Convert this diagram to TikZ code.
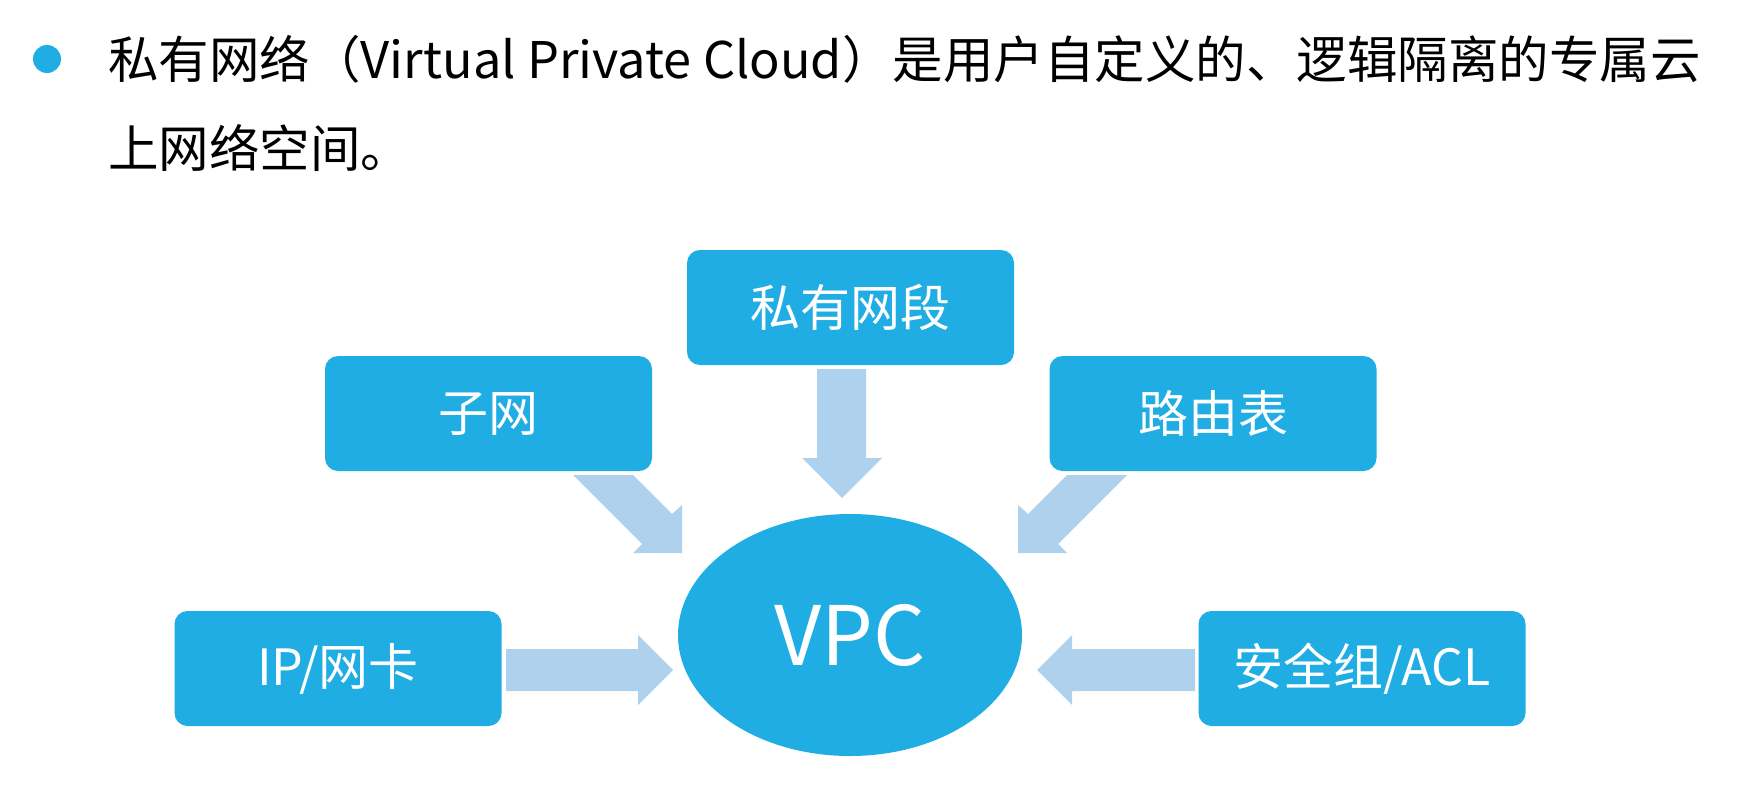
\documentclass[tikz,border=0pt]{standalone}
\usepackage{fontspec}
\setmainfont{Noto Sans CJK SC}
\usetikzlibrary{shapes.geometric}
\definecolor{boxblue}{RGB}{31,173,228}
\definecolor{arrowblue}{RGB}{174,210,238}
\begin{document}
\begin{tikzpicture}[x=0.5pt,y=-0.5pt,
  box/.style={fill=boxblue, rounded corners=6.5pt, minimum width=163.5pt, minimum height=57.5pt, inner sep=0pt, text=white, font=\fontsize{25}{30}\selectfont},
  blockarrow/.style={fill=arrowblue},
  titletext/.style={anchor=west, inner sep=0pt, font=\fontsize{25.25}{30}\selectfont}]
\useasboundingbox (0,0) rectangle (1739,803);
% bullet and title
\fill[boxblue] (47,59) circle[radius=7pt];
\node[titletext] (l1) at (108,59) {私有网络（Virtual Private Cloud）是用户自定义的、逻辑隔离的专属云};
\node[titletext] (l2) at (108,148) {上网络空间。};
% arrows
\fill[blockarrow] (817,369) -- (866,369) -- (866,458) -- (882,458) -- (842,498) -- (802,458) -- (817,458) -- cycle;
\fill[blockarrow] (1067,475) -- (1127,475) -- (1058,544) -- (1067,553) -- (1018,553) -- (1018,505) -- (1028,514) -- cycle;
\fill[blockarrow] (633,475) -- (573,475) -- (642,544) -- (633,553) -- (682,553) -- (682,505) -- (672,514) -- cycle;
\fill[blockarrow] (506,649) -- (638,649) -- (638,635) -- (673,670) -- (638,705) -- (638,691) -- (506,691) -- cycle;
\fill[blockarrow] (1195,649) -- (1072,649) -- (1072,635) -- (1037,670) -- (1072,705) -- (1072,691) -- (1195,691) -- cycle;
% boxes
\node[box] (seg) at (850.5,307.5) {私有网段};
\node[box] (sub) at (488.5,413.5) {子网};
\node[box] (rt) at (1213,413.5) {路由表};
\node[box] (ip) at (338,668.5) {IP/网卡};
\node[box] (sg) at (1362,668.5) {安全组/ACL};
\node[ellipse, fill=boxblue, minimum width=172pt, minimum height=121pt, inner sep=0pt, text=white, font=\fontsize{41}{48}\selectfont] (vpc) at (850,635) {VPC};
\end{tikzpicture}
\end{document}
